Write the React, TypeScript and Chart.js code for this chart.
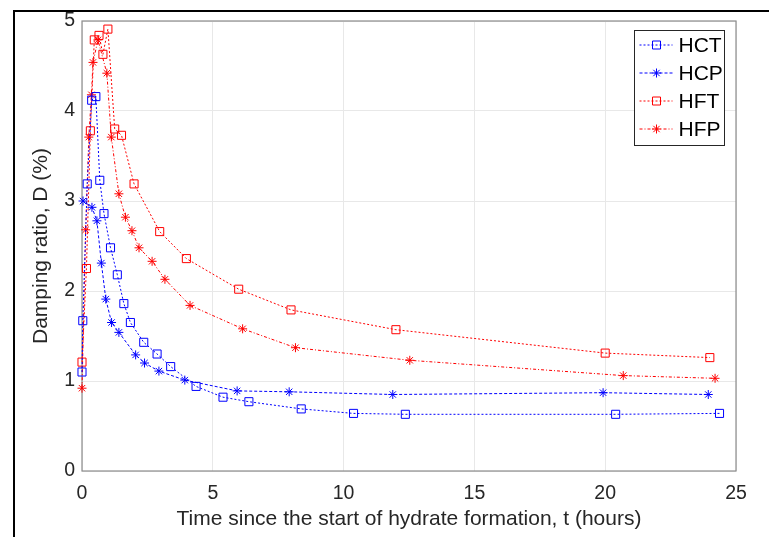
import React, { useEffect, useRef } from 'react';
import { Chart, registerables } from 'chart.js';

Chart.register(...registerables);

// ---- data ----
const seriesNames = ['HCT', 'HCP', 'HFT', 'HFP'];
const xTickStep = 5;
const yTickStep = 1;
const xMax = 25;
const yMax = 5;

const hctT = [0, 0.03, 0.2, 0.37, 0.53, 0.68, 0.84, 1.09, 1.35, 1.6, 1.85, 2.36, 2.87, 3.39, 4.36, 5.39, 6.38, 8.38, 10.38, 12.36, 20.4, 24.37];
const hctD = [1.1, 1.67, 3.19, 4.12, 4.16, 3.23, 2.86, 2.48, 2.18, 1.86, 1.65, 1.43, 1.3, 1.16, 0.94, 0.82, 0.77, 0.69, 0.64, 0.63, 0.63, 0.64];

const hcpT = [0.04, 0.38, 0.57, 0.74, 0.91, 1.13, 1.41, 2.05, 2.39, 2.94, 3.93, 5.93, 7.92, 11.88, 19.92, 23.94];
const hcpD = [3.0, 2.93, 2.78, 2.31, 1.91, 1.65, 1.54, 1.29, 1.2, 1.11, 1.01, 0.89, 0.88, 0.85, 0.87, 0.85];

const hftT = [0, 0.17, 0.32, 0.47, 0.65, 0.8, 0.99, 1.25, 1.51, 1.99, 2.97, 3.99, 5.99, 7.99, 12.0, 20.0, 24.0];
const hftD = [1.21, 2.25, 3.78, 4.79, 4.84, 4.63, 4.91, 3.8, 3.73, 3.19, 2.66, 2.36, 2.02, 1.79, 1.57, 1.31, 1.26];

const hfpT = [0, 0.14, 0.26, 0.36, 0.42, 0.61, 0.95, 1.12, 1.41, 1.66, 1.91, 2.18, 2.68, 3.17, 4.13, 6.14, 8.16, 12.53, 20.69, 24.2];
const hfpD = [0.92, 2.68, 3.71, 4.18, 4.54, 4.79, 4.42, 3.71, 3.08, 2.82, 2.67, 2.48, 2.33, 2.13, 1.84, 1.58, 1.37, 1.23, 1.06, 1.03];

const BLUE = '#0000ff';
const RED = '#ff0000';
const FONT = '"Liberation Sans", Arial, Helvetica, sans-serif';
const TEXT = '#262626';

const pts = (t: number[], d: number[]) => t.map((x, i) => ({ x, y: d[i] }));

const styles = [
  { color: BLUE, marker: 'rect', dash: [2, 2] },
  { color: BLUE, marker: 'star', dash: [3, 2] },
  { color: RED, marker: 'rect', dash: [2, 2] },
  { color: RED, marker: 'star', dash: [3, 2, 1, 2] },
];

function drawMarker(ctx: CanvasRenderingContext2D, kind: string, x: number, y: number, color: string) {
  ctx.save();
  ctx.setLineDash([]);
  ctx.strokeStyle = color;
  ctx.lineWidth = 1;
  ctx.beginPath();
  if (kind === 'rect') {
    ctx.rect(x - 4, y - 4, 8, 8);
  } else {
    const r = 4.5;
    const d = r * Math.SQRT1_2;
    ctx.moveTo(x - r, y); ctx.lineTo(x + r, y);
    ctx.moveTo(x, y - r); ctx.lineTo(x, y + r);
    ctx.moveTo(x - d, y - d); ctx.lineTo(x + d, y + d);
    ctx.moveTo(x - d, y + d); ctx.lineTo(x + d, y - d);
  }
  ctx.stroke();
  ctx.restore();
}

const decorPlugin = {
  id: 'decor',
  beforeDraw(chart: any) {
    const { ctx, width, height } = chart;
    ctx.save();
    ctx.fillStyle = '#ffffff';
    ctx.fillRect(0, 0, width, height);
    ctx.strokeStyle = '#000000';
    ctx.lineWidth = 2;
    ctx.beginPath();
    ctx.moveTo(14, height + 5);
    ctx.lineTo(14, 11);
    ctx.lineTo(width + 5, 11);
    ctx.stroke();
    ctx.restore();
  },
  beforeDatasetsDraw(chart: any) {
    const { ctx, chartArea: a } = chart;
    ctx.save();
    ctx.strokeStyle = '#8c8c8c';
    ctx.lineWidth = 1.2;
    ctx.strokeRect(a.left, a.top, a.right - a.left, a.bottom - a.top);
    ctx.restore();
  },
  afterDatasetsDraw(chart: any) {
    const { ctx, chartArea: a } = chart;
    const left = a.right - 101.5;
    const top = a.top + 9.5;
    ctx.save();
    ctx.fillStyle = '#ffffff';
    ctx.fillRect(left, top, 90, 115);
    ctx.strokeStyle = '#262626';
    ctx.lineWidth = 1;
    ctx.strokeRect(left, top, 90, 115);
    seriesNames.forEach((name, i) => {
      const s = styles[i];
      const y = top + 14.5 + i * 28;
      ctx.save();
      ctx.strokeStyle = s.color;
      ctx.lineWidth = 1;
      ctx.setLineDash(s.dash);
      ctx.beginPath();
      ctx.moveTo(left + 5, y);
      ctx.lineTo(left + 38, y);
      ctx.stroke();
      ctx.restore();
      drawMarker(ctx, s.marker, left + 22, y, s.color);
      ctx.fillStyle = '#000000';
      ctx.font = `21px ${FONT}`;
      ctx.textBaseline = 'middle';
      ctx.textAlign = 'left';
      ctx.fillText(name, left + 44, y + 1);
    });
    ctx.restore();
  },
};

export default function App() {
  const ref = useRef<HTMLCanvasElement>(null);

  useEffect(() => {
    if (!ref.current) return;
    const data = [pts(hctT, hctD), pts(hcpT, hcpD), pts(hftT, hftD), pts(hfpT, hfpD)];
    const chart = new Chart(ref.current, {
      type: 'line',
      data: {
        datasets: seriesNames.map((name, i) => ({
          label: name,
          data: data[i],
          borderColor: styles[i].color,
          backgroundColor: 'transparent',
          borderWidth: 1,
          borderDash: styles[i].dash,
          pointStyle: styles[i].marker as any,
          pointRadius: styles[i].marker === 'rect' ? 5.7 : 4.5,
          pointBorderWidth: 1,
          pointBorderColor: styles[i].color,
          pointBackgroundColor: 'transparent',
          tension: 0,
          fill: false,
          clip: false as any,
        })),
      },
      options: {
        animation: false,
        responsive: false,
        devicePixelRatio: 1,
        layout: { padding: { left: 0, top: 21, right: 33, bottom: 0 } },
        plugins: { legend: { display: false }, tooltip: { enabled: false } },
        scales: {
          x: {
            type: 'linear',
            min: 0,
            max: xMax,
            afterFit: (s: any) => { s.height = 66; },
            ticks: { stepSize: xTickStep, padding: 11, color: TEXT, font: { family: FONT, size: 19.5 } },
            grid: { color: '#e8e8e8', lineWidth: 1, drawTicks: false },
            border: { display: false },
            title: {
              display: true,
              text: 'Time since the start of hydrate formation, t (hours)',
              color: TEXT,
              font: { family: FONT, size: 21 },
              padding: { top: 0, bottom: 5.4 },
            },
          },
          y: {
            type: 'linear',
            min: 0,
            max: yMax,
            afterFit: (s: any) => { s.width = 82; },
            ticks: { stepSize: yTickStep, padding: 7, color: TEXT, font: { family: FONT, size: 19.5 } },
            grid: { color: '#e8e8e8', lineWidth: 1, drawTicks: false },
            border: { display: false },
            title: {
              display: true,
              text: 'Damping ratio, D (%)',
              color: TEXT,
              font: { family: FONT, size: 21 },
              padding: { top: 28.4, bottom: 0 },
            },
          },
        },
      },
      plugins: [decorPlugin],
    });
    return () => chart.destroy();
  }, []);

  return (
    <div style={{ position: 'fixed', left: 0, top: 0, width: 769, height: 537, overflow: 'hidden', background: '#fff' }}>
      <canvas ref={ref} width={769} height={537} style={{ display: 'block' }} />
    </div>
  );
}
